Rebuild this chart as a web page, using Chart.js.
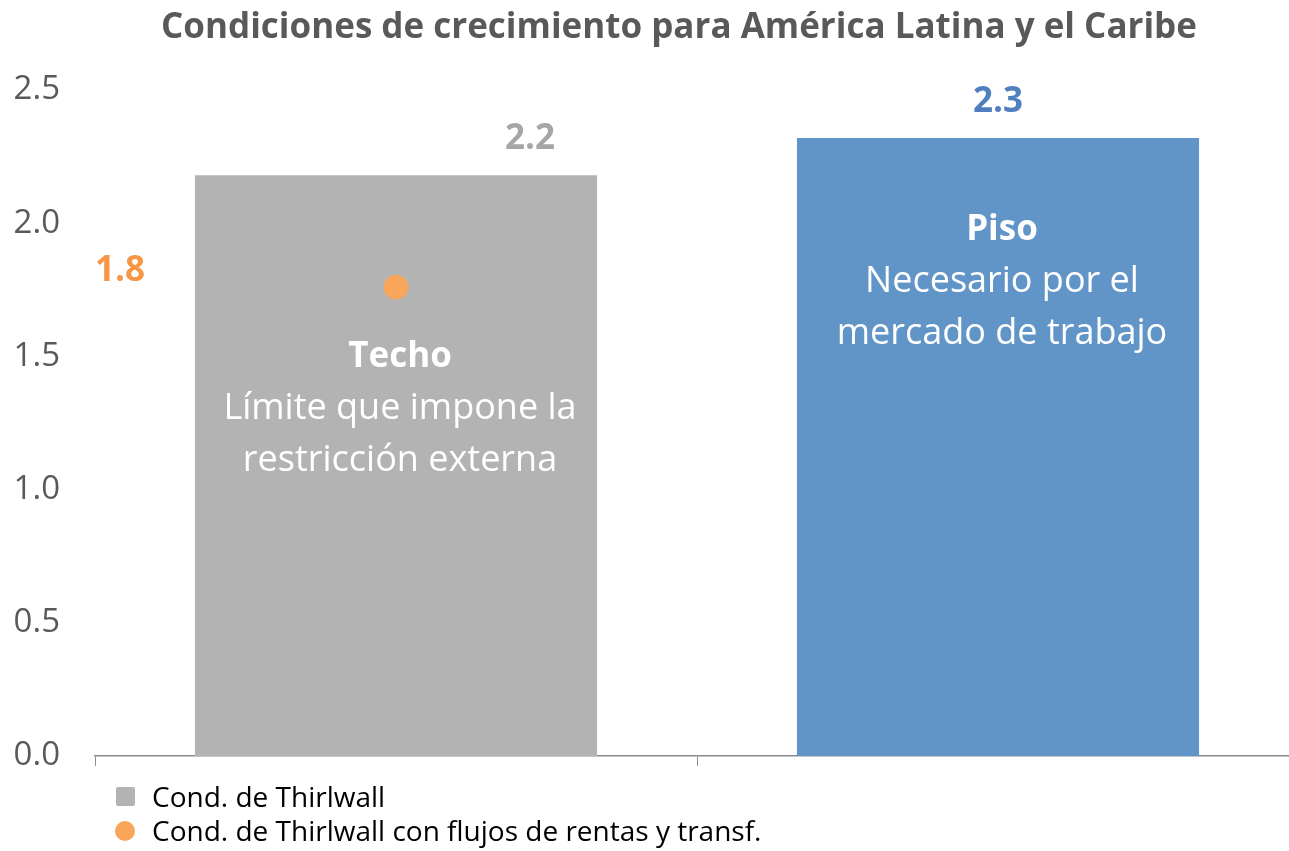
<!DOCTYPE html>
<html>
<head>
<meta charset="utf-8">
<script src="https://cdn.jsdelivr.net/npm/chart.js@4.4.0/dist/chart.umd.min.js"></script>
<style>
  html, body { margin: 0; padding: 0; background: #fff; overflow: hidden; }
  #wrap { width: 1289px; height: 851px; }
</style>
</head>
<body>
<div id="wrap"><canvas id="chart"></canvas></div>
<script>
const categories = ['Techo', 'Piso'];
const barValues = [2.18, 2.32];
const pointValues = [1.76, null];
const valueLabels = ['2.2', '2.3'];
const pointLabel = '1.8';
const yTicks = [0, 0.5, 1, 1.5, 2, 2.5];
const barTitles = ['Techo', 'Piso'];
const barTexts = [
  ['Límite que impone la', 'restricción externa'],
  ['Necesario por el', 'mercado de trabajo']
];
const legendLabels = ['Cond. de Thirlwall', 'Cond. de Thirlwall con flujos de rentas y transf.'];
const chartTitle = 'Condiciones de crecimiento para América Latina y el Caribe';

const FONT = '"Open Sans", "Noto Sans", sans-serif';
const GRAY = '#b3b3b3';
const BLUE = '#6195c8';
const ORANGE = '#f9a55a';

// the x axis in the original runs a little past the right edge of the picture
const extendAxis = {
  id: 'extendAxis',
  afterLayout(chart) {
    const x = chart.scales.x;
    const extra = chart.width + 10 - x.right;
    x.right += extra;
    x.width += extra;
    x.configure();
    chart.chartArea.right += extra;
    chart.chartArea.width += extra;
  }
};

const annotations = {
  id: 'annotations',
  afterDatasetsDraw(chart) {
    const ctx = chart.ctx;
    const bars = chart.getDatasetMeta(0).data;
    const pts = chart.getDatasetMeta(1).data;
    ctx.save();
    ctx.textAlign = 'center';
    ctx.textBaseline = 'middle';

    // title
    ctx.font = 'bold 35px ' + FONT;
    ctx.fillStyle = '#595959';
    ctx.fillText(chartTitle, 679, 28);

    // value labels
    ctx.font = 'bold 35px ' + FONT;
    ctx.fillStyle = '#a6a6a6';
    ctx.fillText(valueLabels[0], bars[0].x + 134, bars[0].y - 36);
    ctx.fillStyle = '#4f7fbf';
    ctx.fillText(valueLabels[1], bars[1].x, bars[1].y - 36);
    ctx.fillStyle = '#f79646';
    ctx.fillText(pointLabel, pts[0].x - 276, pts[0].y - 16);

    // text inside bars
    const titleY = [357, 230];
    bars.forEach((b, i) => {
      ctx.fillStyle = '#ffffff';
      ctx.font = 'bold 35px ' + FONT;
      ctx.fillText(barTitles[i], b.x + 4, titleY[i]);
      ctx.font = '36px ' + FONT;
      barTexts[i].forEach((t, j) => {
        ctx.fillText(t, b.x + 4, titleY[i] + 52 + j * 52);
      });
    });

    // legend
    ctx.textAlign = 'left';
    ctx.font = '28px ' + FONT;
    ctx.fillStyle = GRAY;
    ctx.beginPath();
    ctx.roundRect(116, 787, 19, 19, 2);
    ctx.fill();
    ctx.fillStyle = ORANGE;
    ctx.beginPath();
    ctx.arc(125, 831, 10, 0, Math.PI * 2);
    ctx.fill();
    ctx.fillStyle = '#000000';
    ctx.fillText(legendLabels[0], 152, 799);
    ctx.fillText(legendLabels[1], 152, 833);
    ctx.restore();
  }
};

new Chart(document.getElementById('chart'), {
  data: {
    labels: categories,
    datasets: [
      {
        type: 'bar',
        label: legendLabels[0],
        data: barValues,
        backgroundColor: [GRAY, BLUE],
        categoryPercentage: 0.668,
        barPercentage: 1,
        order: 2
      },
      {
        type: 'line',
        label: legendLabels[1],
        data: pointValues,
        showLine: false,
        pointRadius: 12,
        pointHoverRadius: 12,
        pointBackgroundColor: ORANGE,
        pointBorderColor: ORANGE,
        order: 1
      }
    ]
  },
  options: {
    responsive: true,
    maintainAspectRatio: false,
    animation: false,
    layout: { padding: { left: 0, right: 0, top: 90, bottom: 0 } },
    plugins: {
      legend: { display: false },
      tooltip: { enabled: false }
    },
    scales: {
      x: {
        grid: { display: true, drawOnChartArea: false, tickLength: 10, color: '#8c8c8c' },
        border: { color: '#8c8c8c', width: 1.5 },
        ticks: { display: false },
        afterFit: scale => { scale.height = 95; }
      },
      y: {
        min: 0,
        max: 2.5,
        afterBuildTicks: scale => { scale.ticks = yTicks.map(v => ({ value: v })); },
        grid: { display: false, drawTicks: false },
        border: { display: false },
        ticks: {
          color: '#595959',
          padding: 35,
          font: { family: FONT, size: 33 },
          callback: v => v.toFixed(1)
        },
        afterFit: scale => { scale.width = 95; }
      }
    }
  },
  plugins: [extendAxis, annotations]
});
</script>
</body>
</html>
